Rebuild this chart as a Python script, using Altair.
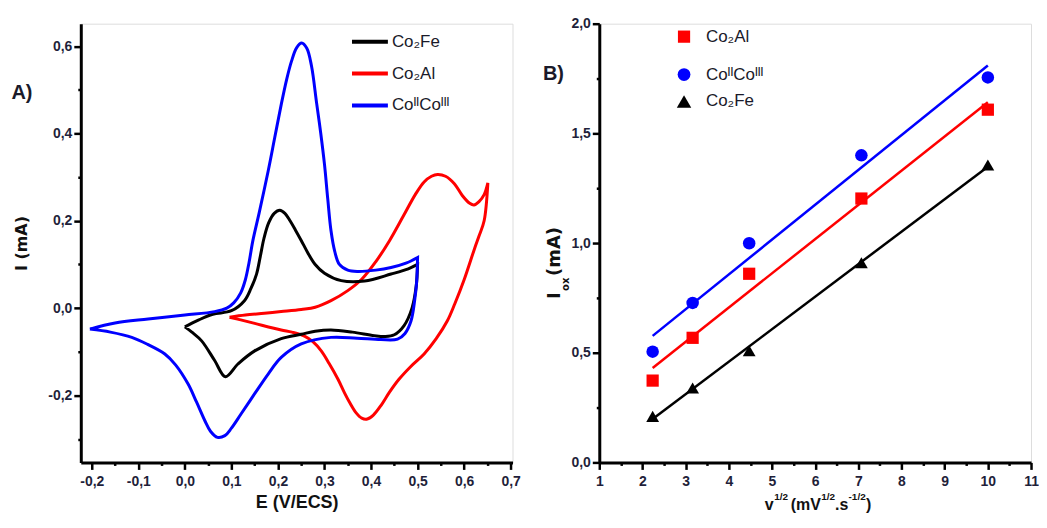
import altair as alt
import pandas as pd

# ---------------- Panel A : cyclic voltammograms (scan order) ----------------
E_co2fe = [0.000, 0.030, 0.060, 0.100, 0.128, 0.142, 0.154, 0.162, 0.170, 0.180, 0.192, 0.204,
           0.215, 0.226, 0.238, 0.250, 0.264, 0.280, 0.300, 0.336, 0.386, 0.443, 0.480, 0.500, 0.500,
           0.497, 0.488, 0.471, 0.450, 0.430, 0.407, 0.360, 0.314, 0.280, 0.250, 0.207, 0.150,
           0.114, 0.087, 0.064, 0.036, 0.015, 0.000]
I_co2fe = [-0.043, -0.027, -0.014, -0.006, 0.017, 0.045, 0.078, 0.118, 0.160, 0.195, 0.217, 0.224,
           0.217, 0.200, 0.178, 0.155, 0.127, 0.100, 0.080, 0.063, 0.062, 0.078, 0.090, 0.100, 0.100,
           0.050, 0.000, -0.040, -0.061, -0.065, -0.063, -0.055, -0.050, -0.053, -0.060, -0.070, -0.098,
           -0.128, -0.157, -0.120, -0.075, -0.055, -0.043]

E_co2al = [0.096, 0.130, 0.171, 0.207, 0.250, 0.280, 0.314, 0.350, 0.380, 0.410, 0.440, 0.470,
           0.495, 0.514, 0.530, 0.543, 0.560, 0.579, 0.596, 0.612, 0.621, 0.632, 0.643, 0.651, 0.651,
           0.643, 0.632, 0.622, 0.600, 0.580, 0.564, 0.540, 0.514, 0.486, 0.460, 0.440, 0.422,
           0.405, 0.392, 0.380, 0.368, 0.355, 0.343, 0.329, 0.310, 0.293, 0.275, 0.257, 0.230, 0.207,
           0.150, 0.120, 0.096]
I_co2al = [-0.021, -0.016, -0.012, -0.008, -0.003, 0.002, 0.017, 0.040, 0.066, 0.106, 0.155, 0.212,
           0.260, 0.289, 0.302, 0.306, 0.302, 0.285, 0.258, 0.240, 0.236, 0.244, 0.260, 0.287, 0.287,
           0.200, 0.165, 0.135, 0.065, 0.010, -0.029, -0.070, -0.105, -0.133, -0.163, -0.192, -0.222,
           -0.245, -0.254, -0.252, -0.240, -0.218, -0.194, -0.163, -0.127, -0.098, -0.077, -0.064, -0.055, -0.050,
           -0.035, -0.027, -0.021]

E_coco = [-0.204, -0.150, -0.079, 0.000, 0.064, 0.090, 0.105, 0.120, 0.130, 0.138, 0.146, 0.160,
          0.179, 0.193, 0.207, 0.219, 0.229, 0.240, 0.251, 0.262, 0.272, 0.283, 0.292, 0.300,
          0.307, 0.314, 0.322, 0.332, 0.350, 0.371, 0.410, 0.443, 0.475, 0.500, 0.500,
          0.498, 0.494, 0.486, 0.473, 0.457, 0.421, 0.370, 0.314, 0.250, 0.207, 0.179, 0.150,
          0.121, 0.100, 0.086, 0.070, 0.055, 0.043, 0.025, 0.007, -0.020, -0.043, -0.080, -0.114,
          -0.160, -0.204]
I_coco = [-0.048, -0.034, -0.025, -0.016, -0.008, 0.000, 0.012, 0.035, 0.065, 0.105, 0.154, 0.220,
          0.314, 0.390, 0.466, 0.525, 0.565, 0.596, 0.607, 0.595, 0.555, 0.470, 0.400, 0.329,
          0.250, 0.177, 0.130, 0.100, 0.087, 0.084, 0.087, 0.093, 0.103, 0.116, 0.116,
          0.060, 0.020, -0.029, -0.058, -0.071, -0.072, -0.069, -0.067, -0.082, -0.113, -0.151, -0.196,
          -0.242, -0.275, -0.292, -0.296, -0.282, -0.258, -0.215, -0.174, -0.130, -0.105, -0.083, -0.067,
          -0.055, -0.048]

NAME_FE = "Co\u2082Fe"
NAME_AL = "Co\u2082Al"
NAME_CC = "Co\u1d35\u1d35Co\u1d35\u1d35\u1d35"

# ---------------- Panel B : peak current vs v^1/2 ----------------
v_half = [2.236, 3.162, 4.472, 7.071, 10.0]
Iox_co2al = [0.373, 0.568, 0.860, 1.203, 1.608]
Iox_coco = [0.505, 0.727, 0.999, 1.400, 1.755]
Iox_co2fe = [0.210, 0.339, 0.509, 0.910, 1.356]

# ---------------- tables ----------------
rows = []
for name, es, is_ in [(NAME_AL, E_co2al, I_co2al), (NAME_FE, E_co2fe, I_co2fe), (NAME_CC, E_coco, I_coco)]:
    for k, (e, i) in enumerate(zip(es, is_)):
        rows.append({"series": name, "E": e, "I": i, "idx": k})
cv = pd.DataFrame(rows)

rowsb = []
for name, ys in [(NAME_AL, Iox_co2al), (NAME_CC, Iox_coco), (NAME_FE, Iox_co2fe)]:
    for x, y in zip(v_half, ys):
        rowsb.append({"series": name, "v": x, "Iox": y})
dfb = pd.DataFrame(rowsb)

FONT = "Liberation Sans, Arial, sans-serif"
TITLE_FONT = "DejaVu Sans, sans-serif"
LABEL_COLOR = "#1f1f3a"
ONE = pd.DataFrame({"k": [0]})


def axis(values, minor_test, label_fmt, title=None, **kw):
    lab = f"({minor_test}) ? '' : replace(replace({label_fmt}, '.', ','), '\u2212', '-')"
    args = dict(
        values=values,
        labelExpr=lab,
        tickSize={"condition": {"test": minor_test, "value": 3}, "value": 7},
        tickWidth=2.5,
        tickColor="black",
        domainColor="black",
        domainWidth=3,
        labelFont=FONT,
        labelFontSize=14,
        labelFontWeight="bold",
        labelColor=LABEL_COLOR,
        labelOverlap=False,
        labelFlush=False,
        labelBound=False,
        grid=False,
        title=title,
    )
    args.update(kw)
    return alt.Axis(**args)


# ---------------- Panel A ----------------
xa_vals = [round(-0.2 + 0.05 * k, 2) for k in range(19)]
ya_vals = [round(-0.3 + 0.1 * k, 1) for k in range(10)]

color_a = alt.Scale(domain=[NAME_FE, NAME_AL, NAME_CC], range=["#000000", "#ff0000", "#0000ff"])

WA, HA = 433, 440
lines_a = alt.Chart(cv).mark_line(strokeWidth=3, interpolate="catmull-rom").encode(
    x=alt.X("E:Q", scale=alt.Scale(domain=[-0.2236, 0.704], nice=False, zero=False),
            axis=axis(xa_vals, "abs(round(datum.value*20)) % 2 == 1", "format(datum.value, '.1f')",
                      title="E (V/ECS)", titleFont=FONT, titleFontSize=18, titleFontWeight="bold",
                      titleColor="#111", titlePadding=5, labelPadding=5)),
    y=alt.Y("I:Q", scale=alt.Scale(domain=[-0.3534, 0.6514], nice=False, zero=False),
            axis=axis(ya_vals, "abs(round(datum.value*10)) % 2 == 1", "format(datum.value, '.1f')",
                      title="I (mA)", titleFont=TITLE_FONT, titleFontSize=16, titleFontWeight="bold",
                      titleColor="#111", titlePadding=18, labelPadding=2)),
    color=alt.Color("series:N", scale=color_a, legend=None),
    detail="series:N",
    order="idx:Q",
)

layers_a = [lines_a]
cmap_a = dict(zip(color_a.domain, color_a.range))
for name, py in [(NAME_FE, 18), (NAME_AL, 50), (NAME_CC, 82)]:
    layers_a.append(alt.Chart(ONE).mark_rule(strokeWidth=4).encode(
        x=alt.value(272), x2=alt.value(308), y=alt.value(py), color=alt.value(cmap_a[name])))
    layers_a.append(alt.Chart(ONE).mark_text(align="left", baseline="middle", font=FONT,
                                             fontSize=17, color="#1a1a2a").encode(
        x=alt.value(312), y=alt.value(py), text=alt.value(name)))
layers_a.append(alt.Chart(ONE).mark_text(align="center", baseline="middle", font=FONT,
                                         fontSize=20, fontWeight="bold", color="#1a1a2a").encode(
    x=alt.value(-59), y=alt.value(70), text=alt.value("A)")))

panel_a = alt.layer(*layers_a).properties(width=WA, height=HA)

# ---------------- Panel B ----------------
xb_vals = [1 + 0.5 * k for k in range(21)]
yb_vals = [0.25 * k for k in range(9)]
dom_b = [NAME_AL, NAME_CC, NAME_FE]
color_b = alt.Scale(domain=dom_b, range=["#ff0000", "#0000ff", "#000000"])
shape_b = alt.Scale(domain=dom_b, range=["square", "circle", "triangle-up"])
size_b = alt.Scale(domain=dom_b, range=[150, 165, 210])

WB, HB = 433, 440
xb = alt.X("v:Q", scale=alt.Scale(domain=[1, 11], nice=False, zero=False),
           axis=axis(xb_vals, "round(datum.value*2) % 2 == 1", "format(datum.value, 'd')",
                     labelPadding=5))
yb = alt.Y("Iox:Q", scale=alt.Scale(domain=[0, 2], nice=False, zero=False),
           axis=axis(yb_vals, "round(datum.value*4) % 2 == 1", "format(datum.value, '.1f')",
                     labelPadding=2))

fits = alt.Chart(dfb).transform_regression("v", "Iox", groupby=["series"]).mark_line(strokeWidth=2.5).encode(
    x=xb, y=yb, color=alt.Color("series:N", scale=color_b, legend=None), detail="series:N")
pts = alt.Chart(dfb).mark_point(filled=True, opacity=1).encode(
    x=xb, y=yb,
    color=alt.Color("series:N", scale=color_b, legend=None),
    shape=alt.Shape("series:N", scale=shape_b, legend=None),
    size=alt.Size("series:N", scale=size_b, legend=None))

layers_b = [fits, pts]
cmap_b = dict(zip(dom_b, color_b.range))
smap_b = dict(zip(dom_b, shape_b.range))
zmap_b = dict(zip(dom_b, size_b.range))
for name, py in [(NAME_AL, 13), (NAME_CC, 51), (NAME_FE, 78)]:
    layers_b.append(alt.Chart(ONE).mark_point(filled=True, size=zmap_b[name], opacity=1,
                                              shape=smap_b[name], color=cmap_b[name]).encode(
        x=alt.value(85), y=alt.value(py)))
    layers_b.append(alt.Chart(ONE).mark_text(align="left", baseline="middle", font=FONT,
                                             fontSize=17, color="#1a1a2a").encode(
        x=alt.value(107), y=alt.value(py), text=alt.value(name)))

# axis titles with sub/superscripts
pieces_b = [
    ("v", 166, 488, 16, 0), ("1/2", 175.5, 478, 10, 0), ("(mV", 192, 488, 16, 0),
    ("1/2", 222.5, 478, 10, 0), (".s", 236.5, 488, 16, 0), ("-1/2", 250, 478, 10, 0),
    (")", 267.5, 488, 16, 0),
    ("I", -39, 276, 18, 270), ("ox", -30, 268, 10, 270), ("(mA)", -39, 253, 18, 270),
]
for txt, px, py, fs, ang in pieces_b:
    font = TITLE_FONT if ang else FONT
    layers_b.append(alt.Chart(ONE).mark_text(align="left", baseline="alphabetic", font=font,
                                             fontSize=fs, fontWeight="bold", angle=ang,
                                             color="#111").encode(
        x=alt.value(px), y=alt.value(py), text=alt.value(txt)))
layers_b.append(alt.Chart(ONE).mark_text(align="center", baseline="middle", font=FONT,
                                         fontSize=20, fontWeight="bold", color="#1a1a2a").encode(
    x=alt.value(-46), y=alt.value(50), text=alt.value("B)")))

panel_b = alt.layer(*layers_b).properties(width=WB, height=HB)

chart = alt.hconcat(panel_a, panel_b, spacing=20).resolve_scale(
    color="independent", shape="independent", size="independent", x="independent", y="independent"
).properties(
    padding={"left": 2, "top": 7, "right": 0, "bottom": 0}
).configure_view(stroke=None).configure(background="white")

chart.save("out.html", embed_options={"renderer": "svg", "actions": False})
